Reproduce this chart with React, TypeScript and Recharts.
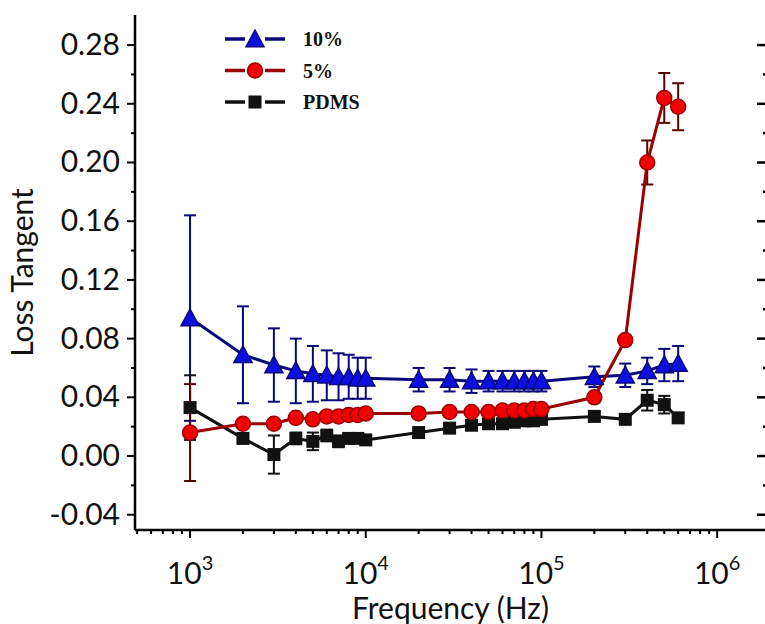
import React from 'react';
import { ComposedChart, Line, XAxis, YAxis, ErrorBar, Legend, Label } from 'recharts';

const freqs = [1e3, 2e3, 3e3, 4e3, 5e3, 6e3, 7e3, 8e3, 9e3, 1e4, 2e4, 3e4, 4e4, 5e4, 6e4, 7e4, 8e4, 9e4, 1e5, 2e5, 3e5, 4e5, 5e5, 6e5];

const tan10 = [0.094, 0.069, 0.062, 0.058, 0.056, 0.055, 0.054, 0.054, 0.053, 0.053, 0.052, 0.052, 0.051, 0.051, 0.051, 0.051, 0.051, 0.051, 0.051, 0.054, 0.055, 0.058, 0.062, 0.063];
const err10 = [0.07, 0.033, 0.025, 0.022, 0.019, 0.017, 0.016, 0.015, 0.014, 0.014, 0.008, 0.008, 0.008, 0.007, 0.007, 0.007, 0.007, 0.007, 0.007, 0.007, 0.008, 0.009, 0.011, 0.012];

const tan5 = [0.016, 0.022, 0.022, 0.026, 0.025, 0.027, 0.027, 0.028, 0.028, 0.029, 0.029, 0.030, 0.030, 0.030, 0.031, 0.031, 0.031, 0.032, 0.032, 0.040, 0.079, 0.200, 0.244, 0.238];
const err5 = [0.033, 0.002, 0.002, 0.002, 0.002, 0.002, 0.002, 0.002, 0.002, 0.002, 0.002, 0.002, 0.002, 0.002, 0.002, 0.002, 0.002, 0.002, 0.002, 0.002, 0.003, 0.015, 0.017, 0.016];

const tanPdms = [0.033, 0.012, 0.001, 0.012, 0.010, 0.014, 0.010, 0.012, 0.012, 0.011, 0.016, 0.019, 0.021, 0.022, 0.022, 0.023, 0.024, 0.024, 0.025, 0.027, 0.025, 0.038, 0.035, 0.026];
const errPdms = [0.022, 0.003, 0.013, 0.004, 0.006, 0.004, 0.004, 0.003, 0.003, 0.003, 0.002, 0.002, 0.002, 0.002, 0.002, 0.002, 0.002, 0.002, 0.002, 0.003, 0.003, 0.007, 0.006, 0.003];

const xMajor = [1e3, 1e4, 1e5, 1e6];
const xMinor = [500, 600, 700, 800, 900, 2e3, 3e3, 4e3, 5e3, 6e3, 7e3, 8e3, 9e3, 2e4, 3e4, 4e4, 5e4, 6e4, 7e4, 8e4, 9e4, 2e5, 3e5, 4e5, 5e5, 6e5, 7e5, 8e5, 9e5];
const yMajor = [-0.04, 0, 0.04, 0.08, 0.12, 0.16, 0.2, 0.24, 0.28];
const yMinor = [-0.02, 0.02, 0.06, 0.1, 0.14, 0.18, 0.22, 0.26];

const data = freqs.map((f, i) => ({
  f,
  t10: tan10[i], e10: err10[i],
  t5: tan5[i], e5: err5[i],
  tp: tanPdms[i], ep: errPdms[i],
}));

const xTicks = [...xMinor, ...xMajor].sort((a, b) => a - b);
const yTicks = [...yMinor, ...yMajor].sort((a, b) => a - b);

const CHART_W = 766; // right frame sits just past the edge, as in the cropped original
const RIGHT_EDGE = 765;
const FONT = 'Lato, "Open Sans", sans-serif';
const BLUE = '#0b10e0';
const NAVY = '#08087a';
const RED = '#f00000';
const DRED = '#9a0000';
const BLACK = '#111';

const Tri = ({ cx, cy, s = 9 }: any) => (
  <path d={`M${cx},${cy - s} L${cx + s},${cy + s * 0.85} L${cx - s},${cy + s * 0.85} Z`} fill={BLUE} stroke={NAVY} strokeWidth={1.5} />
);
const Circ = ({ cx, cy, r = 7.5 }: any) => (
  <circle cx={cx} cy={cy} r={r} fill={RED} stroke={DRED} strokeWidth={1.5} />
);
const Sq = ({ cx, cy, s = 6.5 }: any) => (
  <rect x={cx - s} y={cy - s} width={s * 2} height={s * 2} fill={BLACK} />
);

const dotOf = (Shape: any) => (p: any) => {
  if (p.cx == null || p.cy == null) return <g key={p.index} />;
  return <Shape key={p.index} cx={p.cx} cy={p.cy} />;
};

const XTick = ({ x, y, payload }: any) => {
  const v = payload.value;
  const major = xMajor.includes(v);
  const exp = Math.round(Math.log10(v));
  return (
    <g>
      <line x1={x} x2={x} y1={y} y2={y + (major ? 8 : 4)} stroke="#000" strokeWidth={2} />
      {major && (
        <text x={x} y={y + 54} textAnchor="middle" fontFamily={FONT} fontSize={30} fill="#111">
          10<tspan dy={-14} fontSize={20}>{exp}</tspan>
        </text>
      )}
    </g>
  );
};

// left ticks point out, the right frame's ticks point in (drawn as small bars)
const YTick = ({ x, y, payload }: any) => {
  const v = payload.value;
  const major = yMajor.includes(v);
  const len = major ? 8 : 4;
  const rLen = major ? 8 : 2;
  return (
    <g>
      <line x1={x - len} x2={x} y1={y} y2={y} stroke="#000" strokeWidth={2} />
      <rect x={RIGHT_EDGE - rLen} y={y - 1.25} width={rLen} height={2.5} fill="#000" stroke="none" />
      {major && (
        <text x={x - 15} y={y + 10} textAnchor="end" fontFamily={FONT} fontSize={30} fill="#111">
          {v.toFixed(2)}
        </text>
      )}
    </g>
  );
};

const legendRows = [
  { name: '10%', Shape: Tri, line: NAVY },
  { name: '5%', Shape: Circ, line: DRED },
  { name: 'PDMS', Shape: Sq, line: BLACK },
];

const renderLegend = () => (
  <svg width={230} height={100}>
    {legendRows.map((r, i) => {
      const cy = 17 + i * 31.5;
      return (
        <g key={r.name}>
          <line x1={5} x2={25} y1={cy} y2={cy} stroke={r.line} strokeWidth={3.5} />
          <line x1={45} x2={65} y1={cy} y2={cy} stroke={r.line} strokeWidth={3.5} />
          <r.Shape cx={35} cy={cy} />
          <text x={83} y={cy + 7} fontFamily='"Liberation Serif", "Times New Roman", serif' fontWeight="bold" fontSize={20} fill="#111">
            {r.name}
          </text>
        </g>
      );
    })}
  </svg>
);

export default function App() {
  return (
    <div style={{ position: 'absolute', left: 0, top: 0, width: 765, height: 624, overflow: 'hidden', background: '#fff' }}>
      <ComposedChart width={CHART_W} height={624} data={data} margin={{ top: 15, right: 0, bottom: 0, left: 0 }}>
        <XAxis
          dataKey="f"
          type="number"
          scale="log"
          domain={[486, 1.897e6]}
          allowDataOverflow
          ticks={xTicks}
          interval={0}
          tick={<XTick />}
          tickLine={false}
          tickSize={0}
          tickMargin={0}
          height={94}
          axisLine={{ stroke: '#000', strokeWidth: 2.5 }}
        >
          <Label value="Frequency (Hz)" position="insideBottom" offset={5} style={{ fontFamily: FONT, fontSize: 30, fill: '#111' }} />
        </XAxis>
        <XAxis
          xAxisId="top"
          orientation="top"
          dataKey="f"
          type="number"
          scale="log"
          domain={[486, 1.897e6]}
          allowDataOverflow
          height={0}
          tick={false}
          tickLine={false}
          axisLine={{ stroke: '#000', strokeWidth: 2.5 }}
        />
        <YAxis
          type="number"
          domain={[-0.0504, 0.3005]}
          allowDataOverflow
          ticks={yTicks}
          interval={0}
          tick={<YTick />}
          tickLine={false}
          tickSize={0}
          tickMargin={0}
          width={135}
          axisLine={{ stroke: '#000', strokeWidth: 2.5 }}
        >
          <Label value="Loss Tangent" angle={-90} position="insideLeft" offset={22} style={{ fontFamily: FONT, fontSize: 30, fill: '#111', textAnchor: 'middle' }} />
        </YAxis>
        <Legend layout="vertical" align="center" verticalAlign="middle" content={renderLegend} wrapperStyle={{ left: 220, top: 22, width: 230 }} />
        <Line dataKey="t10" type="linear" stroke={NAVY} strokeWidth={3} dot={dotOf(Tri)} activeDot={false} isAnimationActive={false}>
          <ErrorBar dataKey="e10" direction="y" width={6} stroke={NAVY} strokeWidth={2} />
        </Line>
        <Line dataKey="tp" type="linear" stroke={BLACK} strokeWidth={3} dot={dotOf(Sq)} activeDot={false} isAnimationActive={false}>
          <ErrorBar dataKey="ep" direction="y" width={6} stroke={BLACK} strokeWidth={2} />
        </Line>
        <Line dataKey="t5" type="linear" stroke={DRED} strokeWidth={3} dot={dotOf(Circ)} activeDot={false} isAnimationActive={false}>
          <ErrorBar dataKey="e5" direction="y" width={6} stroke="#5a0000" strokeWidth={2} />
        </Line>
      </ComposedChart>
    </div>
  );
}
